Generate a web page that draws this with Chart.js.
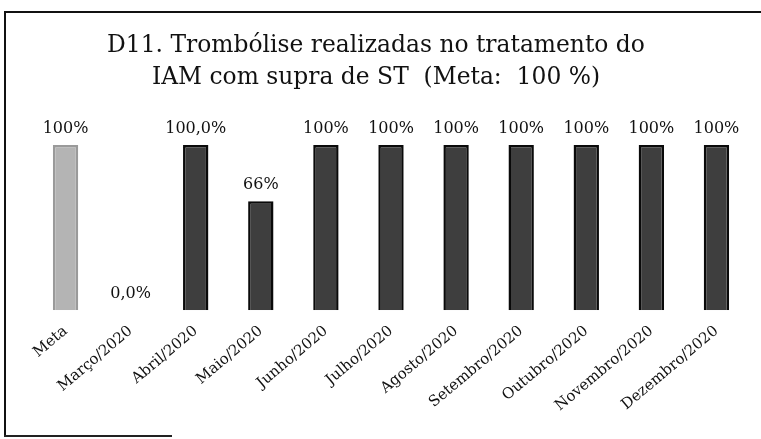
<!DOCTYPE html>
<html>
<head>
    <meta charset="utf-8">
    <title>D11. Trombólise</title>
    <script src="https://cdn.jsdelivr.net/npm/chart.js"></script>
    <style>
        body { margin: 0; background: #fff; }
        #box { position: absolute; left: 0; top: 0; width: 761px; height: 439px; }
        #frame { position: absolute; left: 4px; top: 11px; width: 800px; height: 424px;
                 border-left: 2px solid #111; border-top: 2px solid #111; }
        #frameBottom { position: absolute; left: 4px; top: 435px; width: 168px; height: 2px; background: #222; }
    </style>
</head>
<body>
<div id="box">
    <div id="frame"></div>
    <div id="frameBottom"></div>
    <canvas id="grafico" width="761" height="439"></canvas>
</div>
<script>
// categorias (eixo x)
const categorias = ['Meta', 'Março/2020', 'Abril/2020', 'Maio/2020', 'Junho/2020', 'Julho/2020',
    'Agosto/2020', 'Setembro/2020', 'Outubro/2020', 'Novembro/2020', 'Dezembro/2020'];
// valores em %
const valores = [100, 0, 100, 66, 100, 100, 100, 100, 100, 100, 100];
// rótulos exibidos acima das barras
const rotulos = ['100%', '0,0%', '100,0%', '66%', '100%', '100%', '100%', '100%', '100%', '100%', '100%'];

const fonte = "'DejaVu Serif', serif";

const cores = valores.map((v, i) => i === 0 ? '#b4b4b4' : '#3e3e3e');
const bordas = valores.map((v, i) => i === 0 ? '#9a9a9a' : '#0a0a0a');

// desenha os rótulos de dados acima de cada barra
const rotulosPlugin = {
    id: 'rotulos',
    afterDatasetsDraw(chart) {
        const ctx = chart.ctx;
        const meta = chart.getDatasetMeta(0);
        ctx.save();
        ctx.fillStyle = '#111';
        ctx.font = "16px " + fonte;
        ctx.textAlign = 'center';
        ctx.textBaseline = 'bottom';
        meta.data.forEach((bar, i) => {
            ctx.fillText(rotulos[i], bar.x, bar.y - 8);
        });
        ctx.restore();
    }
};

new Chart(document.getElementById('grafico').getContext('2d'), {
    type: 'bar',
    data: {
        labels: categorias,
        datasets: [{
            data: valores,
            backgroundColor: cores,
            borderColor: bordas,
            borderWidth: 2.5,
            categoryPercentage: 1,
            barPercentage: 0.39
        }]
    },
    options: {
        responsive: false,
        animation: false,
        layout: { padding: { left: 3, right: 12, top: 0, bottom: 20 } },
        plugins: {
            legend: { display: false },
            tooltip: { enabled: false },
            title: {
                display: true,
                text: ['D11. Trombólise realizadas no tratamento do', 'IAM com supra de ST  (Meta:  100 %)'],
                color: '#111',
                font: { family: fonte, size: 23.4, weight: 'normal', lineHeight: 1.37 },
                padding: { top: 30, bottom: 51 }
            }
        },
        scales: {
            x: {
                grid: { display: false },
                border: { display: false },
                ticks: {
                    color: '#111',
                    font: { family: fonte, size: 15 },
                    minRotation: 40,
                    maxRotation: 40,
                    autoSkip: false,
                    padding: 4
                }
            },
            y: {
                min: 0,
                max: 100,
                grid: { display: false },
                border: { display: false },
                ticks: { display: false },
                // eixo invisível, só reserva a margem esquerda
                afterFit(scale) { scale.width = 30; }
            }
        }
    },
    plugins: [rotulosPlugin]
});
</script>
</body>
</html>
